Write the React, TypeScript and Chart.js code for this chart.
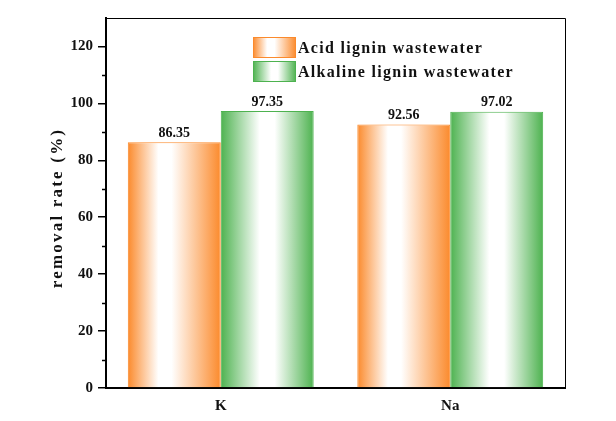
import React, { useEffect, useRef } from "react";
import { Chart, registerables } from "chart.js";

Chart.register(...registerables);

const categories = ["K", "Na"];
const seriesNames = ["Acid lignin wastewater", "Alkaline lignin wastewater"];
const acidValues = [86.35, 92.56];
const alkalineValues = [97.35, 97.02];
const yTicks = [0, 20, 40, 60, 80, 100, 120];
const minorTicks = [10, 30, 50, 70, 90, 110];

const ORANGE = "#FB8A2C";
const GREEN = "#4DB24F";
const FONT = "'Liberation Serif', 'Times New Roman', serif";

function makeGrad(ctx: CanvasRenderingContext2D, x0: number, x1: number, color: string, w0: number, w1: number) {
  const g = ctx.createLinearGradient(x0, 0, x1, 0);
  g.addColorStop(0, color);
  g.addColorStop(w0, "#FFFFFF");
  g.addColorStop(w1, "#FFFFFF");
  g.addColorStop(1, color);
  return g;
}

const gradientPlugin = {
  id: "barGradient",
  beforeDatasetsDraw(chart: any) {
    const ctx = chart.ctx;
    chart.data.datasets.forEach((ds: any, di: number) => {
      const meta = chart.getDatasetMeta(di);
      meta.data.forEach((el: any) => {
        const half = el.width / 2;
        const color = di === 0 ? ORANGE : GREEN;
        const g = di === 0
          ? makeGrad(ctx, el.x - half, el.x + half, color, 0.33, 0.47)
          : makeGrad(ctx, el.x - half, el.x + half, color, 0.42, 0.58);
        el.options = { ...el.options, backgroundColor: g };
      });
    });
  },
  afterDatasetsDraw(chart: any) {
    const ctx = chart.ctx;
    ctx.save();
    ctx.font = `bold 14px ${FONT}`;
    ctx.fillStyle = "#111";
    ctx.textAlign = "center";
    ctx.textBaseline = "bottom";
    chart.data.datasets.forEach((ds: any, di: number) => {
      const meta = chart.getDatasetMeta(di);
      meta.data.forEach((el: any, i: number) => {
        ctx.fillText(ds.data[i].toFixed(2), el.x, el.y - 2);
      });
    });
    ctx.restore();
  },
  afterDraw(chart: any) {
    const ctx = chart.ctx;
    const { left, right, top, bottom } = chart.chartArea;
    const y = chart.scales.y;
    ctx.save();
    // top & right frame
    ctx.strokeStyle = "#000";
    ctx.lineWidth = 1;
    ctx.beginPath();
    ctx.moveTo(left, top + 0.5);
    ctx.lineTo(right + 0.5, top + 0.5);
    ctx.lineTo(right + 0.5, bottom);
    ctx.stroke();
    // minor ticks
    ctx.lineWidth = 1.5;
    ctx.beginPath();
    minorTicks.forEach((v) => {
      const py = Math.round(y.getPixelForValue(v)) + 0.5;
      ctx.moveTo(left - 4, py);
      ctx.lineTo(left, py);
    });
    ctx.stroke();
    // y axis title
    ctx.save();
    ctx.translate(58, 208);
    ctx.rotate(-Math.PI / 2);
    ctx.font = `bold 17px ${FONT}`;
    (ctx as any).letterSpacing = "2.2px";
    ctx.fillStyle = "#111";
    ctx.textAlign = "center";
    ctx.textBaseline = "middle";
    ctx.fillText("removal rate (%)", 0, 0);
    ctx.restore();
    // legend
    const boxes = [
      { y0: 37, color: ORANGE, w0: 0.33, w1: 0.5 },
      { y0: 61, color: GREEN, w0: 0.42, w1: 0.58 },
    ];
    boxes.forEach((b, i) => {
      const x0 = 253, x1 = 296, h = 21;
      ctx.fillStyle = makeGrad(ctx, x0, x1, b.color, b.w0, b.w1);
      ctx.fillRect(x0, b.y0, x1 - x0, h);
      ctx.strokeStyle = b.color;
      ctx.lineWidth = 1;
      ctx.strokeRect(x0 + 0.5, b.y0 + 0.5, x1 - x0 - 1, h - 1);
      ctx.font = `bold 16px ${FONT}`;
      (ctx as any).letterSpacing = "1.3px";
      ctx.fillStyle = "#111";
      ctx.textAlign = "left";
      ctx.textBaseline = "middle";
      ctx.fillText(seriesNames[i], 298, b.y0 + h / 2 + 1);
      (ctx as any).letterSpacing = "0px";
    });
    ctx.restore();
  },
};

export default function App() {
  const ref = useRef<HTMLCanvasElement>(null);
  useEffect(() => {
    const chart = new Chart(ref.current!, {
      type: "bar",
      data: {
        labels: categories,
        datasets: [
          {
            label: seriesNames[0],
            data: acidValues,
            backgroundColor: ORANGE,
            borderColor: ORANGE,
            borderWidth: 1,
            categoryPercentage: 0.81,
            barPercentage: 1,
          },
          {
            label: seriesNames[1],
            data: alkalineValues,
            backgroundColor: GREEN,
            borderColor: GREEN,
            borderWidth: 1,
            categoryPercentage: 0.81,
            barPercentage: 1,
          },
        ],
      },
      options: {
        animation: false,
        responsive: false,
        maintainAspectRatio: false,
        layout: { padding: { left: 0, top: 18, right: 51, bottom: 0 } },
        plugins: { legend: { display: false }, tooltip: { enabled: false } },
        scales: {
          x: {
            grid: { display: false },
            border: { display: true, color: "#000", width: 2 },
            ticks: { color: "#111", font: { family: FONT, size: 15, weight: "bold" }, padding: 1 },
            afterFit(s: any) { s.height = 33; },
          },
          y: {
            min: 0,
            max: 130,
            afterBuildTicks(s: any) { s.ticks = yTicks.map((v) => ({ value: v })); },
            grid: { display: true, drawOnChartArea: false, drawTicks: true, tickLength: 8, color: "#000", lineWidth: 1.5 },
            border: { display: true, color: "#000", width: 2 },
            ticks: { color: "#111", font: { family: FONT, size: 15, weight: "bold" }, padding: 5 },
            afterFit(s: any) { s.width = 106; },
          },
        },
      },
      plugins: [gradientPlugin],
    });
    return () => chart.destroy();
  }, []);
  return (
    <div style={{ position: "fixed", left: 0, top: 0, width: 616, height: 421, background: "#fff" }}>
      <canvas ref={ref} width={616} height={421} style={{ width: 616, height: 421 }} />
    </div>
  );
}
